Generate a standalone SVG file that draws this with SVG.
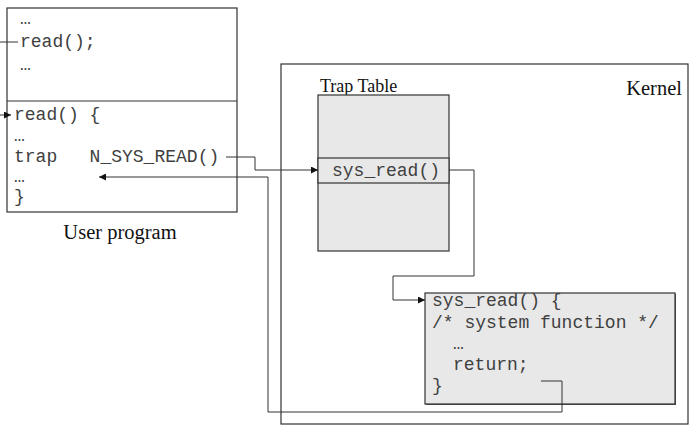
<svg xmlns="http://www.w3.org/2000/svg" width="691" height="426" viewBox="0 0 691 426">
<defs>
<style>
.box{fill:#ffffff;stroke:#333333;stroke-width:1.2}
.gbox{fill:#e8e8e8;stroke:#333333;stroke-width:1.2}
.code{font-family:"Liberation Mono","Courier New",monospace;font-size:18px;fill:#404040}
.lbl{font-family:"Liberation Serif","Times New Roman",serif;fill:#111111}
.conn{fill:none;stroke:#333333;stroke-width:1}
</style>
<marker id="arr" markerUnits="userSpaceOnUse" markerWidth="8" markerHeight="7" refX="7" refY="3.5" orient="auto">
<path d="M0,0 L7,3.5 L0,7 z" fill="#111111"/>
</marker>
</defs>
<rect width="691" height="426" fill="#ffffff"/>

<g id="kernel">
<rect class="box" x="281" y="64" width="407" height="360"/>
<text class="lbl" x="682" y="95" font-size="20.5" text-anchor="end">Kernel</text>
</g>

<g id="user-program">
<rect class="box" x="7" y="8" width="230" height="204"/>
<line x1="7" y1="101" x2="237" y2="101" stroke="#333333" stroke-width="1.2"/>
<text class="code" x="20" y="24">…</text>
<text class="code" x="20" y="47">read();</text>
<text class="code" x="20" y="70">…</text>
<text class="code" x="14" y="120">read() {</text>
<text class="code" x="14" y="141">…</text>
<text class="code" x="14" y="162" xml:space="preserve">trap   N_SYS_READ()</text>
<text class="code" x="14" y="182">…</text>
<text class="code" x="14" y="202">}</text>
<text class="lbl" x="120" y="239" font-size="20.5" text-anchor="middle">User program</text>
</g>

<g id="trap-table">
<text class="lbl" x="320" y="92" font-size="18">Trap Table</text>
<rect class="gbox" x="318" y="95" width="131" height="156"/>
<rect class="gbox" x="318" y="158" width="131" height="25"/>
<text class="code" x="332" y="176">sys_read()</text>
</g>

<g id="sys-read">
<rect x="426" y="294" width="250" height="111" fill="#555555"/>
<rect class="gbox" x="425" y="293" width="250" height="111"/>
<text class="code" x="432" y="306">sys_read() {</text>
<text class="code" x="432" y="328">/* system function */</text>
<text class="code" x="453" y="349">…</text>
<text class="code" x="453" y="370">return;</text>
<text class="code" x="432" y="391">}</text>
</g>

<g id="connectors">
<line class="conn" x1="0" y1="42" x2="18" y2="42"/>
<line class="conn" x1="0" y1="115" x2="11" y2="115" marker-end="url(#arr)"/>
<polyline class="conn" points="226,157 255,157 255,170 318,170" marker-end="url(#arr)"/>
<polyline class="conn" points="449,170 474,170 474,276 393,276 393,300 425,300" marker-end="url(#arr)"/>
<polyline class="conn" points="541,381 562,381 562,412 268,412 268,177 99,177" marker-end="url(#arr)"/>
</g>
</svg>
